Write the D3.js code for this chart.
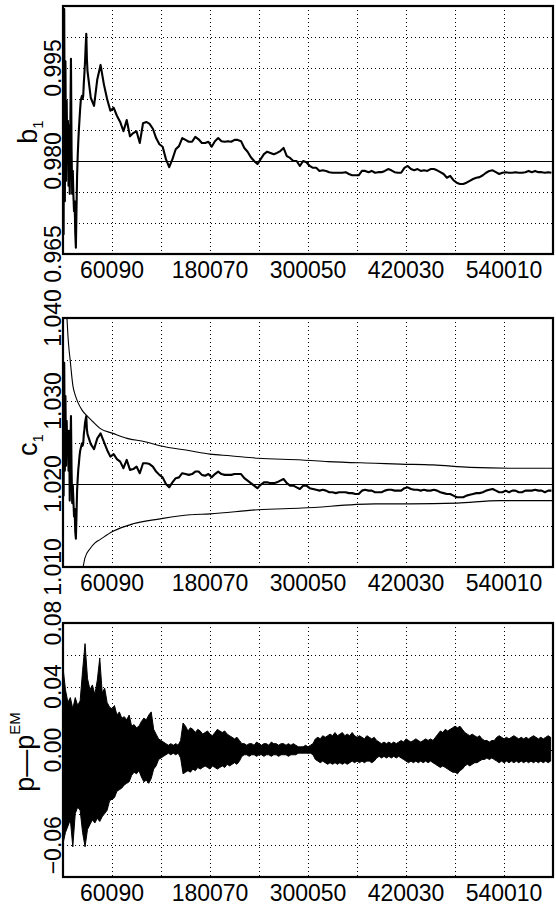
<!DOCTYPE html>
<html>
<head>
	<meta charset="utf-8">
	<title>b1, c1 and p - p^EM traces</title>
	<style>
		body {
			margin: 0;
			background: #fff;
		}

		svg {
			display: block;
		}

		.tick-label {
			font-family: 'Liberation Sans', Arial, sans-serif;
			font-size: 23px;
			fill: #000;
		}

		.axis-title {
			font-family: 'Liberation Sans', Arial, sans-serif;
			font-size: 27px;
			fill: #000;
		}
	</style>
</head>
<body>
	<svg width="556" height="906"></svg>
<script src="https://d3js.org/d3.v7.min.js"></script>
<script>

	// ---- x axis (observation index) ----
	const xDomain = [100, 600000]
	const xGridValues = [100, 60090, 120080, 180070, 240060, 300050, 360040, 420030, 480020, 540010, 600000]
	const xLabelValues = [60090, 180070, 300050, 420030, 540010]

	// sampling of the b1 / c1 traces: a fine early stretch, then a coarser one
	const earlyStart = 100, earlyStep = 750
	const lateStart = 30100, lateStep = 4000

	// ---- panel 1 : b1 ----
	const b1Domain = [0.965, 1.005]
	const b1Grid = [0.965, 0.970, 0.975, 0.980, 0.985, 0.990, 0.995, 1.000, 1.005]
	const b1Labels = [0.995, 0.980, 0.965]
	const b1Ref = 0.980

	const b1Early = [0.9865, 0.9682, 1.0045, 0.9735, 0.9961, 0.9768, 0.9897, 0.9816, 0.9865, 0.9760,
		0.9857, 0.9747, 0.9865, 0.9965, 0.9816, 0.9747, 0.9784, 0.9744, 0.9719, 0.9735,
		0.9684, 0.9660, 0.9719, 0.9776, 0.9808, 0.9832, 0.9852, 0.9868, 0.9884, 0.9897,
		0.9902, 0.9905, 0.9900, 0.9905, 0.9926, 0.9942, 0.9961, 0.9985, 1.0005, 0.9965]

	const b1Late = [0.9945, 0.9902, 0.9889, 0.9932, 0.9955, 0.9924, 0.9900, 0.9881, 0.9886, 0.9873,
		0.9863, 0.9848, 0.9866, 0.9840, 0.9845, 0.9848, 0.9829, 0.9861, 0.9863, 0.9860,
		0.9852, 0.9837, 0.9827, 0.9823, 0.9803, 0.9790, 0.9803, 0.9819, 0.9824, 0.9837,
		0.9834, 0.9831, 0.9831, 0.9839, 0.9835, 0.9829, 0.9829, 0.9831, 0.9823, 0.9832,
		0.9837, 0.9832, 0.9831, 0.9832, 0.9831, 0.9834, 0.9834, 0.9832, 0.9821, 0.9815,
		0.9806, 0.9800, 0.9795, 0.9803, 0.9811, 0.9815, 0.9813, 0.9811, 0.9813, 0.9816,
		0.9821, 0.9808, 0.9805, 0.9800, 0.9800, 0.9792, 0.9800, 0.9798, 0.9792, 0.9789,
		0.9789, 0.9784, 0.9785, 0.9784, 0.9782, 0.9781, 0.9781, 0.9781, 0.9781, 0.9782,
		0.9779, 0.9777, 0.9777, 0.9777, 0.9784, 0.9784, 0.9782, 0.9784, 0.9781, 0.9782,
		0.9782, 0.9784, 0.9787, 0.9785, 0.9782, 0.9781, 0.9781, 0.9789, 0.9792, 0.9787,
		0.9785, 0.9787, 0.9784, 0.9785, 0.9784, 0.9787, 0.9787, 0.9785, 0.9782, 0.9779,
		0.9773, 0.9776, 0.9769, 0.9765, 0.9763, 0.9763, 0.9765, 0.9768, 0.9771, 0.9773,
		0.9774, 0.9777, 0.9781, 0.9784, 0.9785, 0.9782, 0.9779, 0.9781, 0.9782, 0.9781,
		0.9781, 0.9782, 0.9781, 0.9781, 0.9782, 0.9784, 0.9782, 0.9784, 0.9782, 0.9782,
		0.9781, 0.9782, 0.9781]

	// ---- panel 2 : c1 with its two bounds ----
	const c1Domain = [1.010, 1.040]
	const c1Grid = [1.010, 1.015, 1.020, 1.025, 1.030, 1.035, 1.040]
	const c1Labels = [1.040, 1.030, 1.020, 1.010]
	const c1Ref = 1.020

	const c1Early = [1.0252, 1.0186, 1.0346, 1.0216, 1.0306, 1.0222, 1.0276, 1.0240, 1.0264, 1.0216,
		1.0264, 1.0180, 1.0240, 1.0282, 1.0216, 1.0177, 1.0198, 1.0180, 1.0161, 1.0170,
		1.0143, 1.0134, 1.0161, 1.0192, 1.0206, 1.0218, 1.0225, 1.0234, 1.0240, 1.0243,
		1.0246, 1.0249, 1.0246, 1.0249, 1.0260, 1.0266, 1.0274, 1.0278, 1.0282, 1.0266]

	const c1Late = [1.0260, 1.0248, 1.0242, 1.0255, 1.0261, 1.0251, 1.0241, 1.0233, 1.0236, 1.0230,
		1.0227, 1.0219, 1.0229, 1.0217, 1.0218, 1.0221, 1.0213, 1.0225, 1.0225, 1.0224,
		1.0221, 1.0215, 1.0211, 1.0208, 1.0200, 1.0196, 1.0202, 1.0207, 1.0208, 1.0213,
		1.0212, 1.0211, 1.0212, 1.0215, 1.0215, 1.0211, 1.0210, 1.0212, 1.0208, 1.0212,
		1.0215, 1.0212, 1.0211, 1.0211, 1.0211, 1.0212, 1.0212, 1.0212, 1.0207, 1.0204,
		1.0201, 1.0198, 1.0195, 1.0199, 1.0202, 1.0202, 1.0201, 1.0201, 1.0202, 1.0204,
		1.0206, 1.0201, 1.0198, 1.0198, 1.0196, 1.0194, 1.0198, 1.0198, 1.0195, 1.0194,
		1.0193, 1.0192, 1.0193, 1.0192, 1.0190, 1.0190, 1.0189, 1.0190, 1.0190, 1.0190,
		1.0189, 1.0189, 1.0188, 1.0188, 1.0192, 1.0193, 1.0192, 1.0192, 1.0190, 1.0190,
		1.0190, 1.0192, 1.0193, 1.0193, 1.0192, 1.0192, 1.0192, 1.0195, 1.0196, 1.0194,
		1.0193, 1.0193, 1.0192, 1.0193, 1.0192, 1.0192, 1.0193, 1.0192, 1.0190, 1.0189,
		1.0188, 1.0188, 1.0186, 1.0184, 1.0184, 1.0184, 1.0186, 1.0187, 1.0188, 1.0189,
		1.0189, 1.0190, 1.0192, 1.0193, 1.0194, 1.0192, 1.0190, 1.0190, 1.0192, 1.0190,
		1.0192, 1.0192, 1.0190, 1.0190, 1.0192, 1.0192, 1.0192, 1.0193, 1.0192, 1.0192,
		1.0190, 1.0192, 1.0192]

	const upperN = [5000, 6200, 7400, 8700, 12300, 14800, 18500, 23400, 29500, 36800, 45400, 61300, 78500, 100500,
		118900, 155600, 180100, 204600, 238800, 292700, 324500, 382100, 412700, 453100, 498400, 547400, 600000]
	const upperVal = [1.0399, 1.0378, 1.0363, 1.0351, 1.0318, 1.0308, 1.0298, 1.0289, 1.0282, 1.0275, 1.0267, 1.0261, 1.0255, 1.0251,
		1.0246, 1.0240, 1.0236, 1.0234, 1.0231, 1.0229, 1.0227, 1.0225, 1.0224, 1.0223, 1.0220, 1.0219, 1.0219]

	const lowerN = [24600, 27000, 33200, 39300, 45400, 61300, 85800, 118900, 155600, 180100, 238800, 292700,
		382100, 424900, 482500, 535100, 600000]
	const lowerVal = [1.0099, 1.0111, 1.0122, 1.0129, 1.0133, 1.0143, 1.0152, 1.0158, 1.0163, 1.0164, 1.0169, 1.0171,
		1.0176, 1.0176, 1.0177, 1.0180, 1.0180]

	// ---- panel 3 : p - p^EM, read as the band's upper / lower edge per bin (in 1/1000) ----
	const residDomain = [-0.08, 0.08]
	const residGrid = [-0.08, -0.06, -0.04, -0.02, 0.00, 0.02, 0.04, 0.06, 0.08]
	const residLabels = [0.08, 0.04, 0.00, -0.06]
	const residStart = 100, residStep = 3000

	const residHiMilli = [52, 38, 30, 33, 26, 33, 28, 31, 50, 67, 45, 38, 41, 35, 44, 58, 36, 39, 30, 27,
		26, 28, 22, 24, 20, 21, 19, 22, 15, 16, 14, 15, 18, 20, 19, 22, 24, 13, 10, 7,
		6, 5, 4, 3, 4, 3, 4, 3, 6, 17, 15, 12, 14, 13, 11, 13, 12, 10, 11, 12,
		10, 9, 11, 13, 12, 11, 12, 10, 9, 8, 7, 8, 6, 4, 4, 3, 4, 4, 3, 5,
		4, 3, 4, 4, 3, 5, 4, 4, 3, 4, 4, 3, 4, 3, 4, 3, 2, 2, 2, 3,
		2, 3, 4, 7, 8, 7, 9, 8, 9, 10, 9, 11, 9, 10, 11, 9, 10, 9, 11, 9,
		8, 9, 8, 7, 9, 8, 7, 8, 6, 5, 4, 5, 4, 5, 4, 5, 4, 5, 6, 5,
		7, 6, 5, 6, 7, 6, 5, 6, 7, 6, 7, 6, 8, 10, 12, 11, 13, 12, 13, 14,
		15, 14, 15, 13, 11, 10, 9, 10, 9, 8, 9, 7, 6, 6, 5, 6, 6, 8, 9, 8,
		7, 8, 7, 8, 9, 8, 7, 8, 7, 8, 7, 8, 9, 8, 7, 8, 7, 8, 9, 8]

	const residLoMilli = [-59, -52, -48, -44, -61, -40, -36, -38, -52, -61, -50, -47, -44, -46, -43, -45, -42, -40, -38, -32,
		-31, -30, -26, -25, -24, -22, -21, -20, -16, -14, -15, -13, -17, -20, -19, -21, -18, -12, -10, -6,
		-5, -4, -3, -2, -3, -2, -3, -2, -5, -15, -14, -13, -14, -12, -13, -11, -12, -11, -10, -11,
		-12, -10, -11, -12, -11, -10, -11, -9, -10, -9, -8, -9, -7, -4, -3, -3, -4, -3, -3, -4,
		-3, -3, -4, -3, -3, -4, -3, -3, -4, -3, -3, -3, -4, -3, -3, -3, -2, -2, -2, -2,
		-2, -2, -3, -6, -7, -8, -7, -8, -9, -8, -9, -8, -9, -8, -9, -8, -9, -8, -7, -8,
		-7, -8, -7, -8, -7, -7, -8, -7, -5, -4, -5, -4, -5, -4, -5, -4, -5, -4, -5, -6,
		-7, -8, -7, -8, -7, -8, -7, -8, -7, -8, -7, -8, -9, -10, -11, -10, -11, -12, -13, -14,
		-14, -15, -13, -12, -10, -9, -10, -9, -8, -8, -7, -6, -6, -5, -6, -5, -6, -7, -8, -7,
		-8, -7, -8, -7, -8, -7, -8, -7, -8, -7, -8, -7, -8, -7, -8, -7, -8, -7, -8, -7]


	// ---- drawing ----
	let svg = d3.select('svg')

	let plotLeft = 63
	let plotRight = 553

	let x = d3.scaleLinear()
		.domain(xDomain)
		.range([plotLeft, plotRight])

	let crisp = v => Math.round(v) + 0.5

	// one framed panel: clip, dotted grid, reference line, labels; returns its y scale and clipped group
	function makePanel(cfg) {
		let y = d3.scaleLinear()
			.domain(cfg.domain)
			.range([cfg.bottom, cfg.top])

		svg.append('clipPath')
			.attr('id', cfg.id)
			.append('rect')
			.attr('x', plotLeft)
			.attr('y', cfg.top)
			.attr('width', plotRight - plotLeft)
			.attr('height', cfg.bottom - cfg.top)

		let grid = svg.append('g')
			.style('stroke', '#000')
			.style('stroke-width', 1)
			.style('stroke-dasharray', '1,3')
			.attr('shape-rendering', 'crispEdges')

		grid.selectAll('.vgrid')
			.data(xGridValues.slice(1, -1))
			.join('line')
			.attr('x1', d => crisp(x(d)))
			.attr('x2', d => crisp(x(d)))
			.attr('y1', cfg.top)
			.attr('y2', cfg.bottom)

		grid.selectAll('.hgrid')
			.data(cfg.grid.slice(1, -1))
			.join('line')
			.attr('x1', plotLeft)
			.attr('x2', plotRight)
			.attr('y1', d => crisp(y(d)))
			.attr('y2', d => crisp(y(d)))

		if (cfg.ref != null) {
			svg.append('line')
				.attr('x1', plotLeft)
				.attr('x2', plotRight)
				.attr('y1', crisp(y(cfg.ref)))
				.attr('y2', crisp(y(cfg.ref)))
				.style('stroke', '#000')
				.style('stroke-width', 1)
				.attr('shape-rendering', 'crispEdges')
		}

		let plot = svg.append('g')
			.attr('clip-path', `url(#${cfg.id})`)

		// y tick labels, rotated and centred on their grid line
		svg.append('g')
			.selectAll('text')
			.data(cfg.labels)
			.join('text')
			.attr('class', 'tick-label')
			.attr('text-anchor', 'middle')
			.attr('transform', d => `translate(61,${y(d)}) rotate(-90)`)
			.text(d => cfg.format(d))

		// x tick labels under the frame
		svg.append('g')
			.selectAll('text')
			.data(xLabelValues)
			.join('text')
			.attr('class', 'tick-label')
			.attr('text-anchor', 'middle')
			.attr('x', d => x(d))
			.attr('y', cfg.bottom + 24)
			.text(d => d)

		return { y: y, plot: plot, cfg: cfg }
	}

	function frame(p) {
		svg.append('rect')
			.attr('x', plotLeft)
			.attr('y', p.cfg.top)
			.attr('width', plotRight - plotLeft)
			.attr('height', p.cfg.bottom - p.cfg.top)
			.style('fill', 'none')
			.style('stroke', '#000')
			.style('stroke-width', 2.2)
	}

	function title(cx, cy, main, small, shift) {
		let t = svg.append('text')
			.attr('class', 'axis-title')
			.attr('text-anchor', 'middle')
			.attr('transform', `translate(${cx},${cy}) rotate(-90)`)
		t.append('tspan').text(main)
		t.append('tspan')
			.attr('dy', shift)
			.style('font-size', '15px')
			.text(small)
	}

	let joinTrace = (early, late) => early.map((v, i) => [earlyStart + i * earlyStep, v])
		.concat(late.map((v, i) => [lateStart + i * lateStep, v]))

	// panel 1
	let p1 = makePanel({ id: 'clip-b1', top: 6, bottom: 254, domain: b1Domain, grid: b1Grid,
		labels: b1Labels, ref: b1Ref, format: d3.format('.3f') })

	p1.plot.append('path')
		.datum(joinTrace(b1Early, b1Late))
		.attr('d', d3.line().x(d => x(d[0])).y(d => p1.y(d[1])))
		.style('fill', 'none')
		.style('stroke', '#000')
		.style('stroke-width', 2.1)
		.style('stroke-linejoin', 'round')
	frame(p1)
	title(37, 132, 'b', '1', 6)

	// panel 2
	let p2 = makePanel({ id: 'clip-c1', top: 318, bottom: 567, domain: c1Domain, grid: c1Grid,
		labels: c1Labels, ref: c1Ref, format: d3.format('.3f') })

	let boundLine = d3.line()
		.x(d => x(d[0]))
		.y(d => p2.y(d[1]))
		.curve(d3.curveMonotoneX)

	p2.plot.append('path')
		.datum(upperN.map((n, i) => [n, upperVal[i]]))
		.attr('d', boundLine)
		.style('fill', 'none')
		.style('stroke', '#000')
		.style('stroke-width', 1.1)

	p2.plot.append('path')
		.datum(lowerN.map((n, i) => [n, lowerVal[i]]))
		.attr('d', boundLine)
		.style('fill', 'none')
		.style('stroke', '#000')
		.style('stroke-width', 1.1)

	p2.plot.append('path')
		.datum(joinTrace(c1Early, c1Late))
		.attr('d', d3.line().x(d => x(d[0])).y(d => p2.y(d[1])))
		.style('fill', 'none')
		.style('stroke', '#000')
		.style('stroke-width', 2.1)
		.style('stroke-linejoin', 'round')
	frame(p2)
	title(37, 445, 'c', '1', 6)

	// panel 3
	let p3 = makePanel({ id: 'clip-res', top: 623, bottom: 877, domain: residDomain, grid: residGrid,
		labels: residLabels, ref: null, format: d3.format('.2f') })

	let band = residHiMilli.map((hi, i) => ({
		n: residStart + i * residStep,
		hi: hi / 1000,
		lo: residLoMilli[i] / 1000
	}))

	p3.plot.append('path')
		.datum(band)
		.attr('d', d3.area().x(d => x(d.n)).y0(d => p3.y(d.lo)).y1(d => p3.y(d.hi)))
		.style('fill', '#000')
		.style('stroke', '#000')
		.style('stroke-width', 1)
	frame(p3)
	title(34, 752, 'p\u2014p', 'EM', -14)

</script>
</body>
</html>
